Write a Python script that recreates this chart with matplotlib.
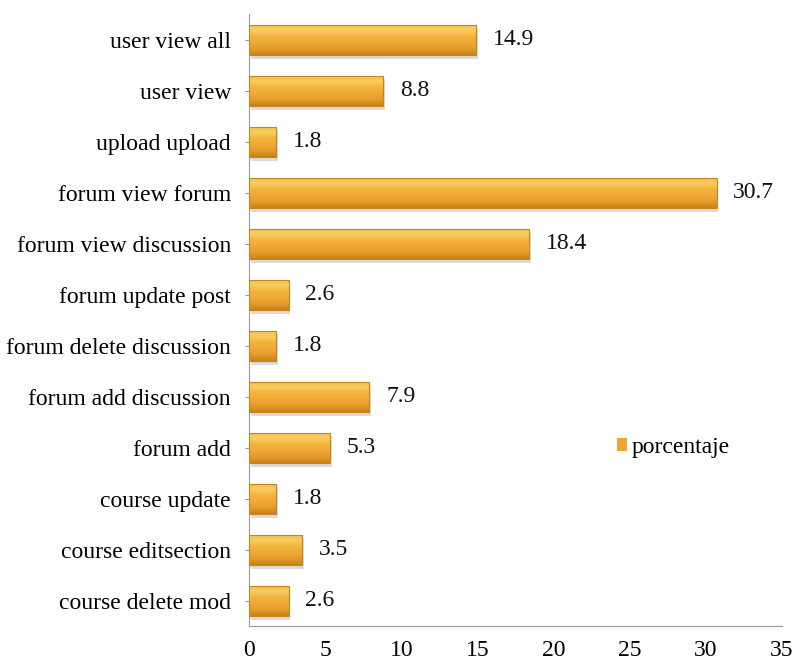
import numpy as np
import matplotlib
matplotlib.use("Agg")
import matplotlib.pyplot as plt
from matplotlib.colors import LinearSegmentedColormap
from matplotlib.patches import Rectangle

plt.rcParams['font.family'] = ['Liberation Serif', 'DejaVu Serif']

# Actions and their share of the log (%), bottom to top
categories = ["course delete mod", "course editsection", "course update", "forum add",
              "forum add discussion", "forum delete discussion", "forum update post",
              "forum view discussion", "forum view forum", "upload upload",
              "user view", "user view all"]
porcentaje = [2.6, 3.5, 1.8, 5.3, 7.9, 1.8, 2.6, 18.4, 30.7, 1.8, 8.8, 14.9]
xticks = [0, 5, 10, 15, 20, 25, 30, 35]

fs = 17

fig = plt.figure(figsize=(7.97, 6.64), dpi=100)
ax = fig.add_axes([0.3124, 0.0565, 0.6688, 0.9217])

# golden bevel gradient used to fill each bar
bevel = LinearSegmentedColormap.from_list(
    "bevel", ["#C98218", "#E59C2A", "#F0AA36", "#F2B23C", "#F7CE62", "#F4BE4C"])
grad = np.linspace(0, 1, 64).reshape(-1, 1)

h = 0.6
y = np.arange(len(categories))
bars = ax.barh(y, porcentaje, height=h, color="#EEA630", edgecolor="none",
               zorder=2, label="porcentaje")
for b, v in zip(bars, porcentaje):
    y0 = b.get_y()
    # soft drop shadow
    ax.add_patch(Rectangle((0.12, y0 - 0.07), v, h, facecolor="#b0b0b0",
                           alpha=0.45, edgecolor="none", zorder=1))
    im = ax.imshow(grad, cmap=bevel, extent=(0, v, y0, y0 + h), aspect="auto",
                   origin="lower", zorder=3, interpolation="bicubic")
    im.set_clip_path(b)
    ax.add_patch(Rectangle((0, y0), v, h, facecolor="none", edgecolor="#C8841E",
                           linewidth=0.8, zorder=4))
    ax.text(v + 1.1, y0 + h / 2, f"{v:.1f}", va="center", ha="left",
            fontsize=fs, color="#111111", zorder=5)

ax.set_xlim(0, 35)
ax.set_ylim(-0.5, len(categories) - 0.5)
ax.set_xticks(xticks)
ax.set_xticklabels([str(t) for t in xticks], fontsize=fs)
ax.set_yticks(y)
ax.set_yticklabels(categories, fontsize=fs)
ax.tick_params(axis="x", length=0, pad=10)
ax.tick_params(axis="y", length=3, color="#999999", pad=10)
for s in ["top", "right"]:
    ax.spines[s].set_visible(False)
ax.spines["left"].set_color("#999999")
ax.spines["bottom"].set_color("#999999")

ax.legend(loc="center left", bbox_to_anchor=(0.65, 0.293), frameon=False,
          fontsize=fs, handlelength=0.45, handleheight=0.45, handletextpad=0.2)

fig.savefig("out.png", dpi=100)
